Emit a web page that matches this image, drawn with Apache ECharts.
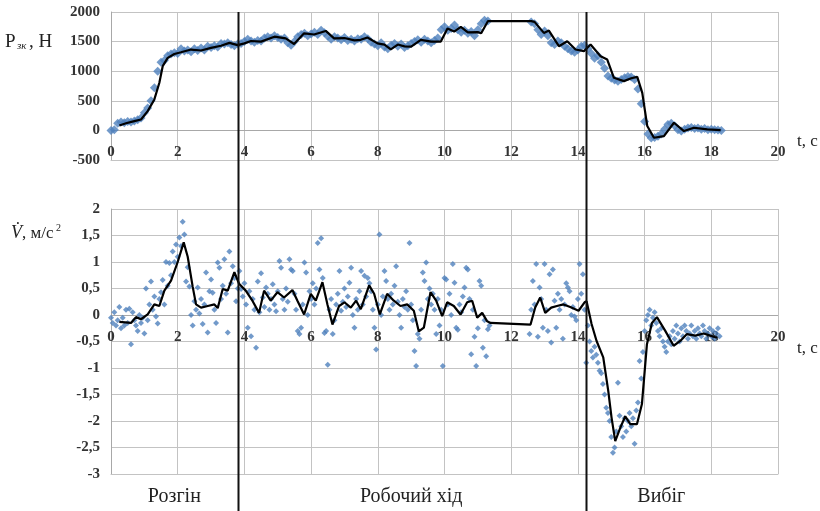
<!DOCTYPE html>
<html>
<head>
<meta charset="utf-8">
<script src="https://cdn.jsdelivr.net/npm/echarts@6/dist/echarts.min.js"></script>
<style>
  html, body { margin: 0; padding: 0; background: #fff; }
  #chart { width: 820px; height: 511px; }
</style>
</head>
<body>
<div id="chart"></div>
<script>
// ---- force P, N : smoothed line (time, value) ----
const forceLineT = [0.25, 0.45, 0.7, 0.9, 1.1, 1.3, 1.45, 1.55, 1.7, 1.9,
  2.1, 2.4, 2.7, 3.0, 3.3, 3.55, 3.8, 4.0, 4.2, 4.5,
  4.9, 5.24, 5.49, 5.79, 6.09, 6.44, 6.69, 7.0, 7.3, 7.49,
  7.69, 7.99, 8.2, 8.39, 8.6, 8.8, 9.0, 9.29, 9.6, 9.89,
  10.09, 10.29, 10.49, 10.7, 11.0, 11.1, 11.3, 12.6, 12.7, 12.98,
  13.13, 13.43, 13.68, 13.93, 14.18, 14.38, 14.68, 14.88, 15.08, 15.38,
  15.6, 15.78, 15.93, 16.08, 16.28, 16.58, 16.88, 17.18, 17.48, 17.88,
  18.28];
const forceLineP = [84, 120, 157, 185, 326, 523, 804, 1085, 1225, 1290,
  1320, 1366, 1350, 1394, 1430, 1478, 1440, 1470, 1510, 1500,
  1583, 1555, 1460, 1640, 1620, 1680, 1555, 1560, 1520, 1530,
  1570, 1470, 1450, 1370, 1450, 1420, 1415, 1530, 1500, 1500,
  1720, 1670, 1750, 1655, 1660, 1640, 1845, 1845, 1833, 1647,
  1686, 1422, 1506, 1366, 1338, 1450, 1253, 1197, 888, 832,
  880, 905, 635, 73, -124, -96, 129, -11, 45, 17,
  6];

// ---- force P, N : measured points, one every 0.1 s from t = 0 ----
const forceStep = 0.1;
const forcePoints = [
  0, 10, 120, 140, 130, 150, 140, 160, 180, 210,
  300, 380, 500, 720, 1000, 1150, 1180, 1260, 1290, 1310,
  1300, 1380, 1340, 1360, 1330, 1380, 1350, 1390, 1360, 1420,
  1400, 1430, 1410, 1470, 1460, 1480, 1450, 1430, 1460, 1470,
  1500, 1540, 1510, 1490, 1520, 1510, 1560, 1580, 1560, 1600,
  1570, 1540, 1560, 1480, 1440, 1500, 1580, 1620, 1640, 1600,
  1630, 1660, 1620, 1690, 1650, 1590, 1540, 1580, 1560, 1530,
  1570, 1520, 1540, 1510, 1550, 1540, 1580, 1550, 1490, 1460,
  1430, 1480, 1410, 1380, 1440, 1470, 1420, 1460, 1400, 1430,
  1470, 1500, 1530, 1490, 1540, 1510, 1480, 1520, 1560, 1700,
  1750, 1690, 1720, 1780, 1700, 1660, 1690, 1640, 1670, 1600,
  1700, 1800, 1860, 1850, null, null, null, null, null, null,
  null, null, null, null, null, null, 1830, 1800, 1700, 1620,
  1680, 1600, 1480, 1450, 1510, 1480, 1420, 1380, 1340, 1320,
  1360, 1420, 1440, 1380, 1300, 1220, 1260, 1150, 1050, 920,
  880, 850, 830, 860, 890, 910, 900, 860, 700, 450,
  150, -60, -130, -120, -100, -60, 20, 100, 120, 80,
  10, -10, 20, 40, 50, 30, 40, 20, 30, 10,
  20, 10, 5, 0
];

// ---- acceleration, m/s2 : smoothed line ----
const accLineT = [0.25, 0.6, 0.75, 0.9, 1.1, 1.3, 1.45, 1.6, 1.8, 2.0,
  2.18, 2.3, 2.45, 2.55, 2.7, 2.9, 3.1, 3.2, 3.35, 3.5,
  3.7, 3.84, 4.04, 4.24, 4.44, 4.59, 4.79, 4.99, 5.19, 5.44,
  5.59, 5.79, 5.99, 6.14, 6.34, 6.49, 6.64, 6.84, 7.0, 7.19,
  7.35, 7.49, 7.74, 7.89, 8.06, 8.28, 8.48, 8.68, 8.88, 9.08,
  9.23, 9.38, 9.58, 9.75, 9.93, 10.08, 10.28, 10.48, 10.68, 10.83,
  10.98, 11.13, 11.28, 11.38, 12.58, 12.72, 12.87, 13.02, 13.2, 13.37,
  13.57, 13.77, 14.02, 14.2, 14.26, 14.41, 14.56, 14.76, 14.91, 15.01,
  15.12, 15.27, 15.42, 15.57, 15.77, 15.92, 16.07, 16.22, 16.37, 16.62,
  16.87, 17.07, 17.27, 17.52, 17.77, 17.97, 18.17];
const accLineV = [-0.13, -0.15, -0.04, -0.08, 0.01, 0.2, 0.17, 0.46, 0.65, 1.0,
  1.37, 1.1, 0.53, 0.2, 0.14, 0.17, 0.2, 0.13, 0.49, 0.46,
  0.81, 0.59, 0.46, 0.27, 0.04, 0.46, 0.27, 0.43, 0.33, 0.47,
  0.27, 0.01, 0.4, 0.27, 0.62, 0.2, -0.18, 0.17, 0.24, 0.14,
  0.27, 0.11, 0.56, 0.4, 0.01, 0.4, 0.27, 0.17, 0.2, 0.08,
  -0.31, -0.24, 0.43, 0.27, -0.02, 0.24, 0.17, 0.01, 0.24, 0.27,
  -0.05, 0.04, -0.12, -0.15, -0.18, 0.14, 0.33, 0.04, 0.14, 0.17,
  0.2, 0.15, 0.08, 0.24, 0.26, -0.17, -0.49, -0.8, -1.43, -1.94,
  -2.38, -2.13, -1.91, -2.06, -2.06, -1.68, -0.55, -0.15, -0.04, -0.3,
  -0.58, -0.49, -0.36, -0.39, -0.35, -0.39, -0.43];

// ---- acceleration, m/s2 : measured points, one every 0.05 s ----
const accStep = 0.05;
const accPoints = [
  -0.05, -0.15, 0.05, -0.2, -0.1, 0.15, -0.25, -0.05, -0.2, 0.1, -0.15, 0.12, -0.55, 0.05, -0.1, -0.2, -0.3, 0.0, -0.15, -0.05,
  -0.35, 0.5, -0.1, 0.2, 0.63, 0.1, 0.35, -0.03, -0.16, 0.3, 0.43, 0.66, 0.2, 1.0, 0.55, 0.98, 0.75, 1.2, 1.0, 1.33,
  1.1, 1.46, 1.3, 1.76, 1.52, 0.63, 0.9, 0.54, 0.0, -0.2, 0.26, 0.1, 0.52, 0.03, 0.3, -0.17, 0.2, 0.8, -0.33, 0.45,
  0.67, 0.42, 0.1, -0.15, 0.99, 0.89, 0.3, 0.55, 1.05, 0.4, -0.33, 1.2, 0.6, 0.92, 0.7, 0.26, 0.5, 0.83, 0.49, 0.35,
  0.6, 0.2, -0.24, 0.45, -0.4, 0.3, 0.1, -0.62, 0.63, 0.05, 0.79, 0.33, 0.15, 0.52, 0.4, 0.1, 0.3, 0.58, 0.2, 0.07,
  0.45, 1.02, 0.89, 0.3, 0.1, 0.5, 0.25, 1.05, 0.86, 0.83, 0.4, 0.1, -0.3, -0.36, -0.24, 0.2, 0.99, 0.8, 0.0, 0.45,
  0.3, 0.6, 0.2, 0.5, 1.36, 0.86, 1.45, 0.7, -0.34, -0.3, -0.94, 0.1, 0.3, -0.36, -0.1, 0.2, 0.4, 0.83, 0.08, 0.25,
  0.5, 0.15, 0.35, 0.61, 0.89, 0.0, -0.24, 0.3, 0.1, 0.45, 0.83, 0.2, 0.74, 0.35, 0.7, 0.6, 0.45, 0.1, -0.24, -0.65,
  0.2, 1.52, 0.0, 0.35, 0.83, 0.64, 0.3, 0.1, 0.4, 0.2, 0.55, 0.92, 0.25, 0.0, -0.24, 0.3, 0.15, 0.45, 0.1, 1.36,
  0.2, -0.1, -0.68, -0.96, -0.36, -0.45, 0.1, 0.8, 0.64, 0.99, 0.3, 0.5, 0.2, 0.4, 0.1, -0.36, 0.3, -0.2, 0.1, -0.96,
  0.7, 0.67, 0.2, 0.4, 0.0, 0.96, 0.61, -0.24, -0.28, 0.2, 0.05, 0.35, 0.52, 0.89, 0.86, 0.3, -0.74, 0.1, -0.41, -0.96,
  -0.25, 0.64, 0.55, -0.62, -0.1, -0.78, -0.27, -0.2, null, null, null, null, null, null, null, null, null, null, null, null,
  null, null, null, null, null, null, null, null, null, null, null, -0.36, 0.1, 0.64, 0.2, 0.96, -0.41, 0.52, 0.3, -0.24,
  0.96, 0.1, -0.3, 0.77, -0.52, 0.86, 0.27, -0.24, 0.4, 0.1, 0.3, -0.45, 0.2, 0.6, 0.52, 0.45, 0.0, 0.15, -0.03, -0.1,
  0.3, 0.96, 0.4, 0.77, 0.1, -0.9, -0.2, -0.5, -0.68, -0.8, -0.6, -0.75, -0.9, -1.05, -1.1, -1.3, -1.5, -1.75, -1.85, -2.0,
  -2.3, -2.6, -2.5, -2.2, -1.28, -1.9, -2.1, -2.3, -1.95, -2.2, -2.0, -1.85, -2.1, -1.95, -2.43, -1.8, -1.65, -0.87, -1.2, -0.7,
  -0.3, -0.1, 0.0, 0.1, -0.2, -0.05, 0.05, -0.15, -0.3, -0.4, -0.25, -0.5, -0.6, -0.7, -0.5, -0.4, -0.55, -0.3, -0.45, -0.2,
  -0.35, -0.5, -0.25, -0.4, -0.2, -0.3, -0.45, -0.35, -0.2, -0.4, -0.3, -0.45, -0.25, -0.35, -0.4, -0.2, -0.3, -0.45, -0.35, -0.25,
  -0.4, -0.3, -0.45, -0.35, -0.25, -0.4
];

// phase boundaries (s) and phase names
const phaseBounds = [3.8, 14.25];
const phaseNames = ['Розгін', 'Робочий хід', 'Вибіг'];
const phaseNameT = [1.9, 9.0, 16.5];

const serif = "'Liberation Serif', 'DejaVu Serif', serif";
const gridColor = '#c3c3c3';
const dotColor = '#4f81bd';

function zip(ts, vs) {
  return ts.map((t, i) => [t, vs[i]]);
}
function sampled(vals, step) {
  const out = [];
  vals.forEach((v, i) => {
    if (v !== null) out.push([+(i * step).toFixed(2), v]);
  });
  return out;
}

// x labels sit just under the zero line, like Excel does it
function xAxisCfg(gi, labelMargin) {
  return {
    gridIndex: gi, type: 'value', min: 0, max: 20, interval: 2,
    axisLine: { onZero: false, lineStyle: { color: gridColor, width: 1 } },
    axisTick: { show: false },
    splitLine: { show: true, lineStyle: { color: gridColor, width: 1 } },
    axisLabel: { margin: labelMargin, fontFamily: serif, fontSize: 15, fontWeight: 'bold', color: '#333' }
  };
}

const chart = echarts.init(document.getElementById('chart'));

const option = {
  animation: false,
  grid: [
    { left: 111, top: 12, width: 667, height: 148 },
    { left: 111, top: 209, width: 667, height: 265 }
  ],
  xAxis: [xAxisCfg(0, -15), xAxisCfg(1, -144)],
  yAxis: [
    {
      gridIndex: 0, type: 'value', min: -500, max: 2000, interval: 500,
      axisLine: { show: true, lineStyle: { color: '#a8a8a8' } },
      axisTick: { show: false },
      splitLine: { lineStyle: { color: gridColor } },
      axisLabel: { margin: 11, fontFamily: serif, fontSize: 15, fontWeight: 'bold', color: '#333',
        formatter: v => String(v) }
    },
    {
      gridIndex: 1, type: 'value', min: -3, max: 2, interval: 0.5,
      axisLine: { show: true, lineStyle: { color: '#a8a8a8' } },
      axisTick: { show: false },
      splitLine: { lineStyle: { color: gridColor } },
      axisLabel: { margin: 11, fontFamily: serif, fontSize: 15, fontWeight: 'bold', color: '#333',
        formatter: v => String(v).replace('.', ',') }
    }
  ],
  series: [
    {
      type: 'scatter', xAxisIndex: 0, yAxisIndex: 0,
      symbol: 'diamond', symbolSize: 9,
      itemStyle: { color: dotColor },
      data: sampled(forcePoints, forceStep)
    },
    {
      type: 'line', xAxisIndex: 0, yAxisIndex: 0,
      showSymbol: false, lineStyle: { color: '#000', width: 2.2 },
      data: zip(forceLineT, forceLineP)
    },
    {
      type: 'scatter', xAxisIndex: 1, yAxisIndex: 1,
      symbol: 'diamond', symbolSize: 6,
      itemStyle: { color: dotColor },
      data: sampled(accPoints, accStep)
    },
    {
      type: 'line', xAxisIndex: 1, yAxisIndex: 1,
      showSymbol: false, lineStyle: { color: '#000', width: 2.2 },
      data: zip(accLineT, accLineV)
    }
  ]
};

chart.setOption(option);

// zero lines of both panels, taken from the y scales
const graphics = [];
[0, 1].forEach(i => {
  const y = Math.round(chart.convertToPixel({ yAxisIndex: i }, 0)) + 0.5;
  graphics.push({
    type: 'line', z: 1,
    shape: { x1: 111, y1: y, x2: 778, y2: y },
    style: { stroke: '#a8a8a8', lineWidth: 1 }
  });
});

// phase separators and labels, placed through the x axis scale
phaseBounds.forEach(t => {
  const x = Math.round(chart.convertToPixel({ xAxisIndex: 0 }, t)) + 0.5;
  graphics.push({
    type: 'line', z: 100,
    shape: { x1: x, y1: 12, x2: x, y2: 511 },
    style: { stroke: '#111', lineWidth: 2 }
  });
});
phaseNames.forEach((name, i) => {
  const x = chart.convertToPixel({ xAxisIndex: 1 }, phaseNameT[i]);
  graphics.push({
    type: 'text', x: x, y: 497,
    style: { text: name, fontFamily: serif, fontSize: 20, fill: '#222', align: 'center', verticalAlign: 'middle' }
  });
});

// axis titles
const txt = (s, x, y, size, extra) => Object.assign({
  type: 'text', x: x, y: y,
  style: Object.assign({ text: s, fontFamily: serif, fontSize: size, fill: '#222', verticalAlign: 'middle' }, extra || {})
});
graphics.push(txt('P', 5, 42, 19));
graphics.push(txt('зк', 17, 46, 11, { fontStyle: 'italic' }));
graphics.push(txt(', Н', 29, 42, 19));
graphics.push(txt('V̇', 11, 233, 18, { fontStyle: 'italic' }));
graphics.push(txt(', м/с', 22, 234, 17));
graphics.push(txt('2', 56, 228, 10));
graphics.push(txt('t, с', 797, 142, 17));
graphics.push(txt('t, с', 797, 349, 17));

chart.setOption({ graphic: graphics });
</script>
</body>
</html>
